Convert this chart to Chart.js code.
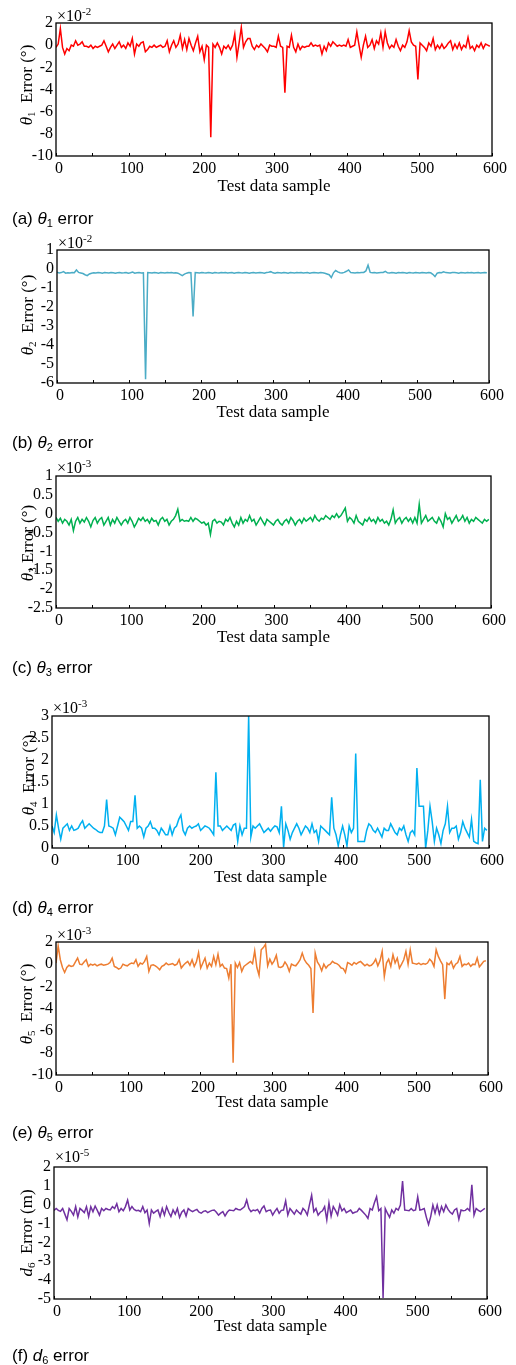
<!DOCTYPE html>
<html><head><meta charset="utf-8">
<script src="https://cdn.jsdelivr.net/npm/chart.js@4/dist/chart.umd.min.js"></script>
<style>
html,body{margin:0;padding:0;background:#fff;}
body{width:516px;height:1365px;position:relative;overflow:hidden;}
canvas.cv{position:absolute;left:0;}
.exp{position:absolute;font-family:"Liberation Serif",serif;font-size:16px;line-height:1;color:#000;white-space:nowrap;transform:translateY(-50%);}
.exp sup{font-size:11px;vertical-align:6px;line-height:0;}
.yt{position:absolute;font-family:"Liberation Serif",serif;font-size:17px;line-height:1;color:#000;white-space:nowrap;transform:translate(-50%,-50%) rotate(-90deg);}
.yt sub{font-size:11px;vertical-align:-3px;line-height:0;}
.cap{position:absolute;left:12px;font-family:"Liberation Sans",Arial,sans-serif;font-size:17px;line-height:1;color:#000;white-space:nowrap;transform:translateY(-50%);}
.cap sub{font-size:11px;vertical-align:-3px;line-height:0;}
</style></head><body>
<script>
// ---- data (units shown by the ×10^n labels) ----
const sampleStep = 3;
const xTickLabels = [0, 100, 200, 300, 400, 500, 600];

const theta1Err = [ // ×10^-2 deg
 -0.2,0.1,1.5,-0.2,-0.8,-0.3,-0.5,0.0,-0.1,0.4,
 0.0,0.1,0.3,-0.1,-0.1,-0.2,0.0,-0.3,-0.1,-0.2,
 -0.1,0.0,0.4,-0.1,-0.6,-0.2,0.1,-0.3,0.0,0.3,
 -0.2,0.0,-0.3,0.2,-0.1,0.6,-0.8,0.1,-0.1,0.2,
 0.3,-0.6,-0.4,-0.1,-0.2,0.0,-0.2,-0.1,0.0,-0.2,
 -0.1,0.4,-0.6,0.0,0.4,-0.2,0.1,0.9,-0.3,0.5,
 -0.4,0.6,0.0,-0.5,0.2,0.8,-0.6,-0.1,-1.3,0.0,
 -0.2,-8.3,0.1,-0.2,0.2,-0.2,-0.8,-0.1,-0.3,0.0,
 -0.4,0.0,1.0,-1.1,0.2,1.6,-0.2,0.3,0.6,0.6,
 -0.1,-0.4,0.0,-0.2,0.1,-0.1,-0.3,-0.6,0.0,-0.1,
 -0.1,-0.2,0.8,-0.1,-0.2,-4.3,-0.1,-0.2,0.9,-0.2,
 -0.6,0.1,-0.4,-0.1,-0.2,-0.1,-0.1,0.2,-0.1,0.0,
 -0.1,0.0,-0.8,-0.1,-0.5,0.2,-0.1,0.3,0.1,-0.1,
 0.0,-0.1,0.0,-0.1,0.5,-0.2,-0.1,0.0,1.2,0.0,
 -1.1,0.0,0.8,-0.2,0.0,0.5,-0.3,0.4,0.1,1.1,
 -0.2,1.2,0.2,-0.3,0.0,-0.2,0.5,-0.1,-0.5,0.0,
 -0.2,0.3,1.3,0.3,0.0,-0.1,-3.1,0.2,0.0,-0.2,
 -0.5,0.2,-0.1,0.6,-0.4,0.0,-0.3,0.1,-0.3,-0.1,
 0.2,0.4,-0.4,0.1,-0.3,0.2,-0.4,0.0,-0.2,0.7,
 -0.3,-0.1,-0.5,0.0,-0.2,0.2,-0.3,0.1,0.0,-0.1];

const theta2Err = [ // ×10^-2 deg
 -0.17,-0.21,-0.19,-0.14,-0.22,-0.2,-0.21,-0.19,-0.2,-0.05,
 -0.18,-0.21,-0.24,-0.3,-0.35,-0.26,-0.22,-0.2,-0.21,-0.19,
 -0.2,-0.22,-0.19,-0.2,-0.21,-0.18,-0.2,-0.22,-0.2,-0.19,
 -0.21,-0.2,-0.18,-0.22,-0.2,-0.16,-0.22,-0.2,-0.19,-0.21,
 -0.2,-5.8,-0.19,-0.2,-0.21,-0.18,-0.2,-0.22,-0.19,-0.2,
 -0.21,-0.19,-0.2,-0.18,-0.21,-0.2,-0.22,-0.28,-0.35,-0.27,
 -0.22,-0.19,-0.2,-2.5,-0.19,-0.2,-0.21,-0.18,-0.2,-0.21,
 -0.19,-0.2,-0.22,-0.18,-0.2,-0.21,-0.19,-0.2,-0.18,-0.21,
 -0.2,-0.19,-0.22,-0.2,-0.18,-0.2,-0.21,-0.19,-0.2,-0.22,
 -0.2,-0.18,-0.21,-0.2,-0.19,-0.2,-0.22,-0.18,-0.17,-0.14,
 -0.2,-0.22,-0.19,-0.2,-0.21,-0.18,-0.2,-0.22,-0.19,-0.2,
 -0.21,-0.19,-0.2,-0.18,-0.21,-0.2,-0.19,-0.22,-0.2,-0.19,
 -0.2,-0.21,-0.19,-0.2,-0.22,-0.26,-0.3,-0.45,-0.2,-0.08,
 -0.15,-0.2,-0.21,-0.18,-0.12,-0.05,-0.19,-0.2,-0.21,-0.19,
 -0.2,-0.19,-0.18,-0.1,0.2,-0.18,-0.2,-0.19,-0.21,-0.2,
 -0.19,-0.18,-0.12,-0.2,-0.21,-0.19,-0.2,-0.22,-0.19,-0.2,
 -0.19,-0.2,-0.22,-0.18,-0.2,-0.21,-0.19,-0.2,-0.21,-0.19,
 -0.2,-0.21,-0.19,-0.2,-0.28,-0.4,-0.22,-0.19,-0.2,-0.15,
 -0.19,-0.2,-0.21,-0.18,-0.19,-0.2,-0.22,-0.19,-0.2,-0.21,
 -0.19,-0.2,-0.18,-0.21,-0.2,-0.19,-0.21,-0.2,-0.19,-0.2];

const theta3Err = [ // ×10^-3 deg
 -0.1,-0.2,-0.12,-0.25,-0.15,-0.2,-0.3,-0.15,-0.45,-0.2,
 -0.1,-0.25,-0.15,-0.22,-0.1,-0.2,-0.35,-0.18,-0.1,-0.25,
 -0.15,-0.1,-0.3,-0.2,-0.1,-0.3,-0.15,-0.25,-0.1,-0.2,
 -0.3,-0.2,-0.15,-0.25,-0.1,-0.2,-0.35,-0.25,-0.12,-0.18,
 -0.1,-0.2,-0.15,-0.25,-0.12,-0.2,-0.18,-0.3,-0.15,-0.1,
 -0.2,-0.15,-0.3,-0.2,-0.15,-0.05,0.12,-0.2,-0.15,-0.2,
 -0.18,-0.2,-0.1,-0.2,-0.12,-0.15,-0.2,-0.25,-0.22,-0.3,
 -0.25,-0.55,-0.2,-0.15,-0.25,-0.2,-0.22,-0.3,-0.15,-0.2,
 -0.1,-0.25,-0.35,-0.2,-0.3,-0.1,-0.25,-0.15,-0.2,-0.05,
 -0.2,-0.15,-0.3,-0.2,-0.1,-0.2,-0.3,-0.15,-0.2,-0.25,
 -0.3,-0.2,-0.15,-0.25,-0.3,-0.2,-0.15,-0.25,-0.1,-0.18,
 -0.3,-0.2,-0.15,-0.25,-0.12,-0.2,-0.15,-0.1,-0.2,-0.05,
 -0.15,-0.2,-0.12,-0.15,-0.05,-0.1,-0.15,-0.05,-0.1,0.0,
 -0.1,-0.05,0.05,0.15,-0.2,-0.1,-0.15,-0.25,-0.05,-0.2,
 -0.25,-0.3,-0.15,-0.2,-0.1,-0.2,-0.15,-0.25,-0.1,-0.2,
 -0.15,-0.25,-0.2,-0.3,-0.15,0.1,-0.25,-0.15,-0.1,-0.25,
 -0.15,-0.1,-0.2,-0.12,-0.25,-0.1,-0.25,0.25,-0.25,-0.15,
 -0.05,-0.2,-0.15,-0.1,-0.2,-0.25,-0.1,-0.2,-0.35,0.0,
 -0.15,-0.1,-0.25,-0.15,-0.05,-0.2,-0.15,-0.05,-0.2,-0.1,
 -0.25,-0.15,-0.2,-0.1,-0.15,-0.2,-0.25,-0.15,-0.2,-0.15];

const theta4Err = [ // ×10^-3 deg
 0.5,0.35,0.75,0.45,0.2,0.45,0.5,0.55,0.4,0.5,
 0.4,0.42,0.45,0.55,0.62,0.45,0.5,0.55,0.5,0.45,
 0.42,0.38,0.35,0.35,0.5,1.1,0.5,0.48,0.45,0.3,
 0.5,0.7,0.65,0.6,0.5,0.4,0.6,0.6,1.2,0.45,
 0.5,0.45,0.25,0.45,0.5,0.6,0.45,0.45,0.4,0.3,
 0.45,0.38,0.3,0.3,0.5,0.3,0.45,0.5,0.65,0.75,
 0.4,0.3,0.45,0.5,0.45,0.48,0.5,0.55,0.4,0.45,
 0.5,0.48,0.45,0.38,0.3,1.72,0.5,0.5,0.4,0.45,
 0.5,0.45,0.4,0.52,0.55,0.15,0.5,0.3,0.45,0.45,
 3.0,0.25,0.5,0.45,0.5,0.55,0.45,0.35,0.4,0.45,
 0.38,0.45,0.5,0.48,0.35,0.95,0.02,0.55,0.4,0.2,
 0.35,0.45,0.55,0.45,0.3,0.4,0.5,0.45,0.35,0.55,
 0.35,0.4,0.15,0.5,0.45,0.4,0.35,0.3,1.15,0.45,
 0.3,0.05,0.3,0.5,0.3,0.05,0.5,0.35,0.45,2.15,
 0.15,0.15,0.15,0.15,0.4,0.55,0.5,0.4,0.35,0.45,
 0.35,0.25,0.45,0.4,0.4,0.55,0.45,0.35,0.3,0.45,
 0.4,0.5,0.3,0.15,0.35,0.4,0.3,1.82,0.95,0.95,
 0.95,0.0,0.4,0.95,0.6,0.15,0.45,0.3,0.1,0.4,
 0.55,0.95,0.35,0.45,0.45,0.5,0.2,0.35,0.6,0.45,
 0.35,0.25,0.65,0.15,0.12,0.1,1.55,0.15,0.45,0.4];

const theta5Err = [ // ×10^-3 deg
 0.1,1.65,0.4,-0.3,-0.75,-0.3,-0.1,-0.2,-0.15,0.2,
 0.55,0.0,-0.05,0.2,0.4,-0.2,0.0,-0.1,0.0,-0.15,
 -0.05,0.0,-0.1,-0.05,0.0,0.15,0.55,-0.2,-0.3,-0.45,
 -0.35,0.0,-0.1,-0.15,0.0,0.1,0.05,0.4,-0.2,0.1,
 0.0,0.25,0.7,-0.65,-0.1,-0.05,-0.15,-0.3,-0.5,-0.2,
 -0.1,0.1,-0.05,0.0,0.05,-0.1,0.0,0.4,-0.35,-0.1,
 0.1,0.25,-0.1,0.4,-0.2,0.2,1.05,-0.35,0.1,0.55,
 -0.35,0.1,-0.2,0.7,-0.05,0.9,-0.2,0.0,-0.35,-0.4,
 -1.25,0.0,-8.9,0.1,-0.3,0.15,-0.65,-0.2,-0.05,0.1,
 0.25,0.05,1.2,-0.3,-1.0,1.3,1.5,1.8,-0.15,0.45,
 0.0,0.3,0.8,-0.25,-0.3,-0.2,0.2,-0.1,-0.65,0.0,
 -0.1,-0.15,0.1,0.4,1.0,0.4,0.1,-0.1,-0.4,-4.4,
 1.0,0.2,-0.1,-0.6,0.0,-0.35,-0.1,0.0,0.25,0.1,
 0.05,-0.1,-0.35,-0.4,-0.75,0.15,0.05,-0.1,0.15,0.0,
 0.15,0.25,0.05,-0.15,0.0,-0.15,-0.1,0.1,0.45,-0.15,
 0.3,1.15,-1.1,0.1,0.45,-0.2,0.85,0.1,0.55,-0.35,
 0.0,0.4,1.15,0.0,1.3,0.1,0.05,0.0,0.1,-0.05,
 0.05,0.0,0.1,0.45,0.25,-0.2,1.3,0.7,0.3,-0.05,
 -3.15,0.1,-0.05,0.25,-0.35,0.0,0.15,0.7,-0.2,0.0,
 -0.05,0.1,-0.2,0.0,-0.05,0.55,-0.25,0.0,0.25,0.3];

const d6Err = [ // ×10^-5 m
 -0.3,-0.2,-0.3,-0.35,-0.2,-0.5,-0.8,-0.2,-0.35,-0.55,
 -0.1,-0.65,-0.2,-0.3,-0.42,-0.1,-0.63,-0.1,-0.37,-0.07,
 -0.3,-0.55,-0.2,-0.32,-0.2,-0.25,-0.28,-0.1,-0.2,0.05,
 -0.37,-0.2,-0.32,-0.1,0.25,-0.28,-0.1,-0.25,-0.32,-0.3,
 -0.37,-0.1,-0.42,-0.28,-1.0,-0.28,-0.45,-0.35,-0.28,-0.63,
 -0.2,-0.55,-0.1,-0.4,-0.63,-0.28,-0.5,-0.2,-0.67,-0.4,
 -0.28,-0.6,-0.2,-0.3,-0.37,-0.3,-0.25,-0.4,-0.45,-0.35,
 -0.32,-0.42,-0.35,-0.3,-0.28,-0.4,-0.55,-0.45,-0.37,-0.6,
 -0.4,-0.28,-0.3,-0.32,-0.2,-0.25,-0.28,-0.2,-0.1,0.25,
 -0.2,-0.37,-0.28,-0.32,-0.25,-0.45,-0.2,-0.07,-0.37,-0.3,
 -0.28,-0.55,-0.35,-0.2,-0.45,-0.3,-0.28,0.2,-0.55,-0.2,
 -0.35,-0.5,-0.28,-0.4,-0.5,-0.2,-0.32,-0.55,0.0,0.5,
 -0.37,-0.2,-0.55,-0.4,-0.32,-0.1,-0.8,0.1,-0.6,-0.1,
 -0.3,-0.55,0.0,-0.32,-0.2,-0.42,-0.35,-0.28,-0.45,-0.4,
 -0.37,-0.2,-0.3,-0.42,-0.55,-0.72,-0.2,-0.28,0.1,0.42,
 -0.32,-0.2,-4.95,-0.2,-0.45,-0.67,-0.28,-0.45,-0.2,-0.28,
 -0.02,1.25,-0.28,-0.3,-0.32,-0.2,-0.32,-0.28,0.42,-0.28,
 -0.25,-0.2,-0.67,-1.05,-0.63,-0.02,-0.45,-0.02,-0.5,-0.1,
 -0.37,-0.02,-0.25,-0.4,-0.5,-0.28,-0.2,-0.77,-0.28,-0.32,
 -0.3,-0.2,-0.32,1.05,-0.55,-0.2,-0.3,-0.37,-0.28,-0.2];

const samples = theta1Err.map((_, i) => i * sampleStep);

// ---- panels ----
const panels = [
  {data: theta1Err, color:'#ff0000', min:-10, max:2, step:2, L:56, R:492, T:23, B:156, exp:'-2', expY:16,
   ytitle:'<i>θ</i><sub>1</sub>&nbsp; Error (°)', ytX:26, ytY:85, xtD:31, cap:'(a) <i>θ</i><sub>1</sub> error', capY:218},
  {data: theta2Err, color:'#4bacc6', min:-6, max:1, step:1, L:57, R:489, T:250, B:383, exp:'-2', expY:243,
   ytitle:'<i>θ</i><sub>2</sub>&nbsp; Error (°)', ytX:27, ytY:315, xtD:30, cap:'(b) <i>θ</i><sub>2</sub> error', capY:442},
  {data: theta3Err, color:'#00b050', min:-2.5, max:1, step:0.5, L:56, R:491, T:476, B:608, exp:'-3', expY:468,
   ytitle:'<i>θ</i><sub>3</sub> Error (°)', ytX:27, ytY:543, xtD:30, cap:'(c) <i>θ</i><sub>3</sub> error', capY:667},
  {data: theta4Err, color:'#00b0f0', min:0, max:3, step:0.5, L:52, R:489, T:716, B:848, exp:'-3', expY:708,
   ytitle:'<i>θ</i><sub>4</sub>&nbsp; Error (°)', ytX:28, ytY:775, xtD:30, cap:'(d) <i>θ</i><sub>4</sub> error', capY:907},
  {data: theta5Err, color:'#ed7d31', min:-10, max:2, step:2, L:56, R:488, T:942, B:1075, exp:'-3', expY:935,
   ytitle:'<i>θ</i><sub>5</sub>&nbsp; Error (°)', ytX:26, ytY:1004, xtD:28, cap:'(e) <i>θ</i><sub>5</sub> error', capY:1132},
  {data: d6Err, color:'#7030a0', min:-5, max:2, step:1, L:54, R:487, T:1167, B:1299, exp:'-5', expY:1157,
   ytitle:'<i>d</i><sub>6</sub>&nbsp; Error (m)', ytX:26, ytY:1233, xtD:28, cap:'(f) <i>d</i><sub>6</sub> error', capY:1355}
];

const framePlugin = {
  id: 'frame',
  afterDatasetsDraw(chart) {
    const {ctx, chartArea: a, scales: {x}} = chart;
    ctx.save();
    ctx.strokeStyle = '#000';
    ctx.lineWidth = 1.3;
    ctx.strokeRect(a.left, a.top, a.right - a.left, a.bottom - a.top);
    ctx.lineWidth = 1;
    x.ticks.forEach(t => {
      const px = Math.round(x.getPixelForValue(t.value)) + 0.5;
      ctx.beginPath(); ctx.moveTo(px, a.bottom); ctx.lineTo(px, a.bottom - 3); ctx.stroke();
    });
    ctx.restore();
  }
};

const serif = '"Liberation Serif", "Times New Roman", serif';
const XH = 46, PADTOP = 23;

panels.forEach(p => {
  const top = p.T - PADTOP;
  const h = (p.B - p.T) + PADTOP + XH;
  const c = document.createElement('canvas');
  c.className = 'cv';
  c.width = 516; c.height = h;
  c.style.top = top + 'px'; c.style.width = '516px'; c.style.height = h + 'px';
  document.body.appendChild(c);

  const ex = document.createElement('div');
  ex.className = 'exp';
  ex.style.left = (p.L + 1) + 'px'; ex.style.top = p.expY + 'px';
  ex.innerHTML = '×10<sup>' + p.exp + '</sup>';
  document.body.appendChild(ex);

  const yt = document.createElement('div');
  yt.className = 'yt';
  yt.style.left = p.ytX + 'px'; yt.style.top = p.ytY + 'px';
  yt.innerHTML = p.ytitle;
  document.body.appendChild(yt);

  const cp = document.createElement('div');
  cp.className = 'cap';
  cp.style.top = p.capY + 'px';
  cp.innerHTML = p.cap;
  document.body.appendChild(cp);

  new Chart(c, {
    type: 'line',
    data: {
      datasets: [{
        data: p.data.map((v, i) => ({x: samples[i], y: v})),
        borderColor: p.color, borderWidth: 1.5, pointRadius: 0, tension: 0, fill: false
      }]
    },
    options: {
      responsive: false, animation: false, devicePixelRatio: 1,
      layout: {padding: {left: 0, right: 516 - p.R, top: PADTOP, bottom: 0}},
      plugins: {legend: {display: false}, tooltip: {enabled: false}},
      scales: {
        x: {
          type: 'linear', min: 0, max: 600,
          grid: {display: false, drawTicks: false}, border: {display: false},
          afterBuildTicks: s => { s.ticks = []; for (let v = 0; v <= 600; v += 50) s.ticks.push({value: v}); },
          ticks: {autoSkip: false, maxRotation: 0, padding: 3, labelOffset: 3, color: '#000',
                  font: {family: serif, size: 16},
                  callback: v => xTickLabels.includes(v) ? String(v) : ''},
          title: {display: true, text: 'Test data sample', color: '#000',
                  font: {family: serif, size: 17}, padding: {top: 0, bottom: XH - 10.2 - p.xtD}},
          afterFit: s => { s.height = XH; }
        },
        y: {
          min: p.min, max: p.max,
          grid: {display: false, drawTicks: false}, border: {display: false},
          ticks: {stepSize: p.step, autoSkip: false, padding: 3, color: '#000',
                  font: {family: serif, size: 16}, callback: v => String(v)},
          afterFit: s => { s.width = p.L; }
        }
      }
    },
    plugins: [framePlugin]
  });
});
</script>
</body></html>
